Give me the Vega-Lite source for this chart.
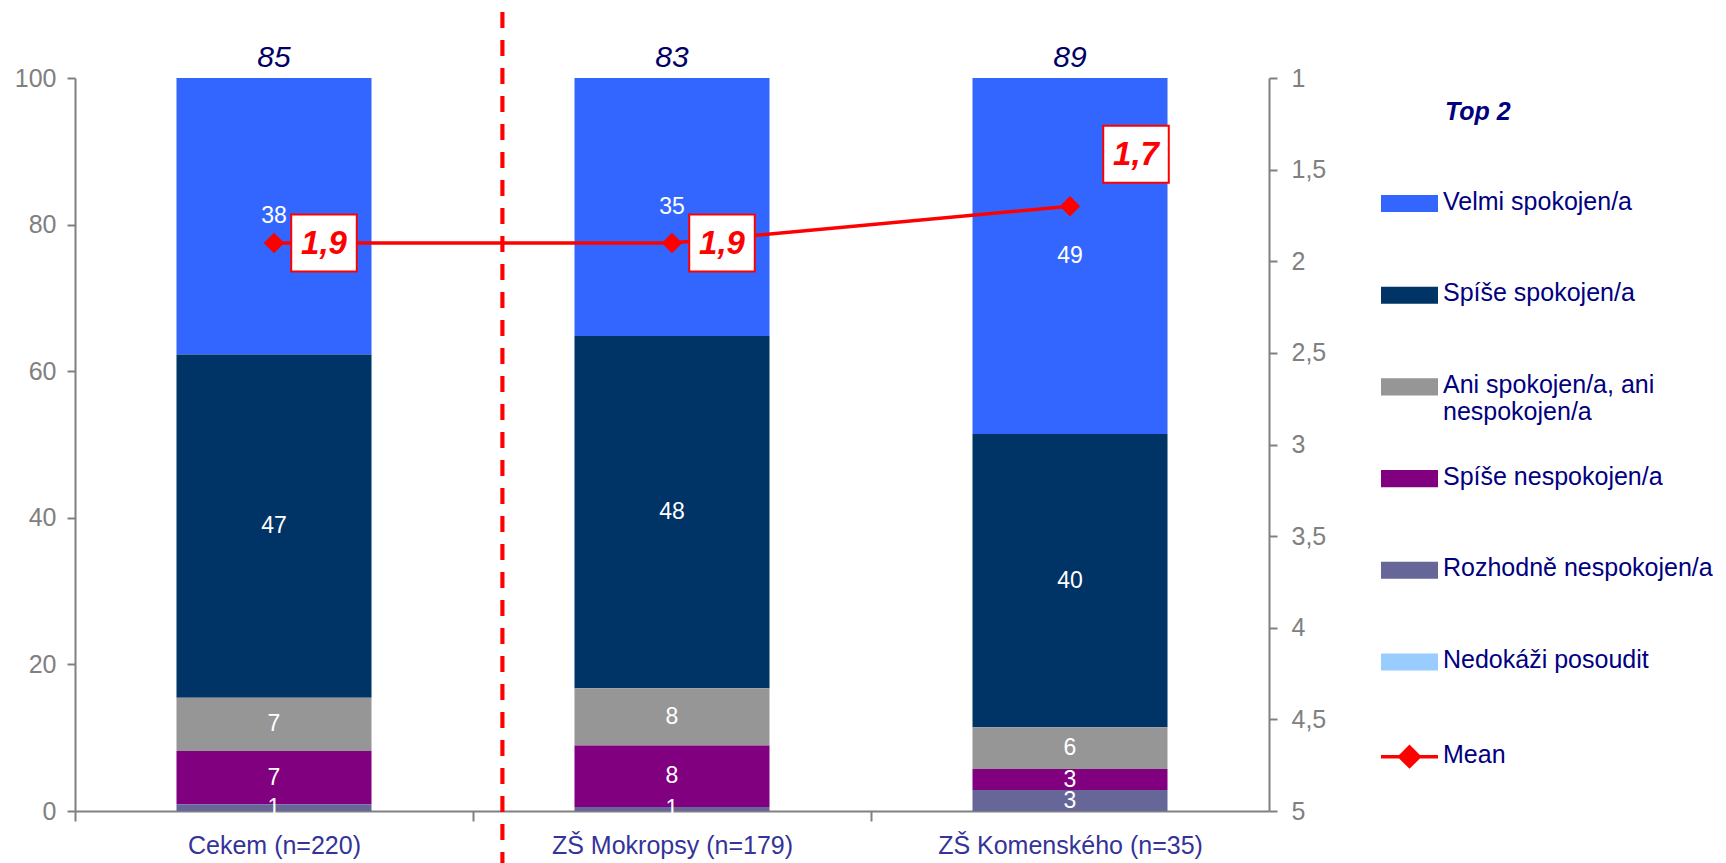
{
  "$schema": "https://vega.github.io/schema/vega-lite/v6.json",
  "width": 1194,
  "height": 733,
  "autosize": {"type": "none"},
  "padding": {"left": 75, "top": 78, "right": 457, "bottom": 52},
  "background": "white",
  "config": {
    "view": {"stroke": null},
    "font": "Liberation Sans",
    "locale": {"number": {"decimal": ",", "thousands": " ", "grouping": [3], "currency": ["", " Kč"]}}
  },
  "datasets": {
    "resp": [
      {"cat": "Cekem (n=220)", "resp": "Velmi spokojen/a", "value": 37.73},
      {"cat": "Cekem (n=220)", "resp": "Spíše spokojen/a", "value": 46.82},
      {"cat": "Cekem (n=220)", "resp": "Ani spokojen/a, ani nespokojen/a", "value": 7.27},
      {"cat": "Cekem (n=220)", "resp": "Spíše nespokojen/a", "value": 7.27},
      {"cat": "Cekem (n=220)", "resp": "Rozhodně nespokojen/a", "value": 0.91},
      {"cat": "Cekem (n=220)", "resp": "Nedokáži posoudit", "value": 0},
      {"cat": "ZŠ Mokropsy (n=179)", "resp": "Velmi spokojen/a", "value": 35.2},
      {"cat": "ZŠ Mokropsy (n=179)", "resp": "Spíše spokojen/a", "value": 48.04},
      {"cat": "ZŠ Mokropsy (n=179)", "resp": "Ani spokojen/a, ani nespokojen/a", "value": 7.82},
      {"cat": "ZŠ Mokropsy (n=179)", "resp": "Spíše nespokojen/a", "value": 8.38},
      {"cat": "ZŠ Mokropsy (n=179)", "resp": "Rozhodně nespokojen/a", "value": 0.56},
      {"cat": "ZŠ Mokropsy (n=179)", "resp": "Nedokáži posoudit", "value": 0},
      {"cat": "ZŠ Komenského (n=35)", "resp": "Velmi spokojen/a", "value": 48.57},
      {"cat": "ZŠ Komenského (n=35)", "resp": "Spíše spokojen/a", "value": 40.0},
      {"cat": "ZŠ Komenského (n=35)", "resp": "Ani spokojen/a, ani nespokojen/a", "value": 5.71},
      {"cat": "ZŠ Komenského (n=35)", "resp": "Spíše nespokojen/a", "value": 2.86},
      {"cat": "ZŠ Komenského (n=35)", "resp": "Rozhodně nespokojen/a", "value": 2.86},
      {"cat": "ZŠ Komenského (n=35)", "resp": "Nedokáži posoudit", "value": 0}
    ],
    "summary": [
      {"cat": "Cekem (n=220)", "top2": 85, "mean": 1.9},
      {"cat": "ZŠ Mokropsy (n=179)", "top2": 83, "mean": 1.9},
      {"cat": "ZŠ Komenského (n=35)", "top2": 89, "mean": 1.7}
    ]
  },
  "layer": [
    {
      "layer": [
        {
          "data": {"name": "resp"},
          "transform": [
            {"calculate": "indexof(['Rozhodně nespokojen/a','Spíše nespokojen/a','Ani spokojen/a, ani nespokojen/a','Spíše spokojen/a','Velmi spokojen/a','Nedokáži posoudit'], datum.resp)", "as": "ord"},
            {"stack": "value", "groupby": ["cat"], "sort": [{"field": "ord", "order": "ascending"}], "as": ["v0", "v1"]}
          ],
          "mark": {"type": "bar"},
          "encoding": {
            "x": {
              "field": "cat", "type": "nominal", "title": null, "sort": null,
              "scale": {"domain": ["Cekem (n=220)", "ZŠ Mokropsy (n=179)", "ZŠ Komenského (n=35)"], "paddingInner": 0.51, "paddingOuter": 0.255},
              "axis": {"labelAngle": 0, "labelFontSize": 25, "labelColor": "#333399", "labelLimit": 500, "tickOffset": -199, "labelOffset": 199, "tickSize": 10, "tickColor": "#808080", "tickWidth": 2, "domainColor": "#808080", "domainWidth": 2, "labelPadding": 12, "grid": false}
            },
            "y": {
              "field": "v0", "type": "quantitative", "title": null,
              "scale": {"domain": [0, 100], "nice": false},
              "axis": {"values": [0, 20, 40, 60, 80, 100], "labelFontSize": 25, "labelColor": "#808080", "tickSize": 8, "tickColor": "#808080", "tickWidth": 2, "domainColor": "#808080", "domainWidth": 2, "labelPadding": 11, "grid": false}
            },
            "y2": {"field": "v1"},
            "color": {
              "field": "resp", "type": "nominal",
              "scale": {
                "domain": ["Velmi spokojen/a", "Spíše spokojen/a", "Ani spokojen/a, ani nespokojen/a", "Spíše nespokojen/a", "Rozhodně nespokojen/a", "Nedokáži posoudit", "Mean"],
                "range": ["#3366FF", "#003366", "#969696", "#800080", "#666699", "#99CCFF", "#FF0000"]
              },
              "legend": {
                "orient": "none", "legendX": 1322, "legendY": 22,
                "title": "Top 2", "titleFontSize": 25, "titleFontStyle": "italic", "titleFontWeight": "bold", "titleColor": "#000080",
                "titleAnchor": "start", "titlePadding": 66, "titleBaseline": "top",
                "labelFontSize": 25, "labelColor": "#000080", "labelLimit": 400, "labelOffset": 21, "labelBaseline": "top",
                "symbolSize": 3249, "symbolStrokeWidth": 0, "symbolOpacity": 1, "rowPadding": 38.7,
                "labelExpr": "datum.label === 'Ani spokojen/a, ani nespokojen/a' ? ['Ani spokojen/a, ani', 'nespokojen/a'] : [datum.label, '']",
                "encode": {
                  "title": {"update": {"dx": {"value": 48}}},
                  "labels": {"update": {"dy": {"value": -14}}},
                  "symbols": {"update": {
                    "shape": {"signal": "datum.value === 'Mean' ? 'M-1,0L1,0M0,-0.34L0.34,0L0,0.34L-0.34,0Z' : 'M-1,-0.3L1,-0.3L1,0.3L-1,0.3Z'"},
                    "strokeWidth": {"signal": "datum.value === 'Mean' ? 3.5 : 0"},
                    "stroke": {"value": "#FF0000"}
                  }}
                }
              }
            }
          }
        },
        {
          "data": {"name": "resp"},
          "transform": [
            {"calculate": "indexof(['Rozhodně nespokojen/a','Spíše nespokojen/a','Ani spokojen/a, ani nespokojen/a','Spíše spokojen/a','Velmi spokojen/a','Nedokáži posoudit'], datum.resp)", "as": "ord"},
            {"stack": "value", "groupby": ["cat"], "sort": [{"field": "ord", "order": "ascending"}], "as": ["v0", "v1"]},
            {"filter": "datum.value > 0"},
            {"calculate": "(datum.v0 + datum.v1) / 2", "as": "mid"}
          ],
          "mark": {"type": "text", "color": "white", "fontSize": 23, "baseline": "middle", "align": "center"},
          "encoding": {
            "x": {"field": "cat", "type": "nominal", "title": null, "sort": null},
            "y": {"field": "mid", "type": "quantitative", "title": null},
            "text": {"field": "value", "type": "quantitative", "format": ".0f"}
          }
        },
        {
          "data": {"name": "summary"},
          "mark": {"type": "text", "color": "#000066", "fontSize": 30, "fontStyle": "italic", "baseline": "alphabetic", "dy": -11},
          "encoding": {
            "x": {"field": "cat", "type": "nominal", "title": null, "sort": null},
            "y": {"datum": 100, "type": "quantitative"},
            "text": {"field": "top2", "type": "quantitative", "format": ".0f"}
          }
        }
      ]
    },
    {
      "data": {"name": "summary"},
      "mark": {"type": "rule", "color": "#FF0000", "strokeWidth": 3.5, "strokeDash": [16, 12]},
      "encoding": {
        "x": {"datum": 1.074, "type": "quantitative", "scale": {"domain": [0, 3], "nice": false, "zero": false}, "axis": null},
        "y": {"datum": 109, "type": "quantitative", "scale": {"domain": [0, 100], "nice": false}, "axis": null},
        "y2": {"datum": -7.2}
      }
    },
    {
      "data": {"name": "summary"},
      "encoding": {
        "x": {
          "field": "cat", "type": "nominal", "title": null, "sort": null,
          "scale": {"domain": ["Cekem (n=220)", "ZŠ Mokropsy (n=179)", "ZŠ Komenského (n=35)"], "paddingInner": 0.51, "paddingOuter": 0.255},
          "axis": null
        },
        "y": {
          "field": "mean", "type": "quantitative", "title": null,
          "scale": {"domain": [1, 5], "reverse": true, "nice": false, "zero": false},
          "axis": {
            "orient": "right", "values": [1, 1.5, 2, 2.5, 3, 3.5, 4, 4.5, 5], "format": "~r",
            "labelFontSize": 25, "labelColor": "#808080", "tickSize": 8, "tickColor": "#808080", "tickWidth": 2,
            "domainColor": "#808080", "domainWidth": 2, "labelPadding": 14, "grid": false,
            "encode": {"ticks": {"update": {"x": {"value": -8}, "x2": {"value": 8}}}}
          }
        }
      },
      "layer": [
        {"mark": {"type": "line", "color": "#FF0000", "strokeWidth": 3.5}},
        {"mark": {"type": "point", "shape": "diamond", "filled": true, "color": "#FF0000", "size": 420, "opacity": 1}},
        {
          "transform": [{"filter": "datum.cat !== 'ZŠ Komenského (n=35)'"}],
          "layer": [
            {"mark": {"type": "point", "shape": "M-1.15,-1L1.15,-1L1.15,1L-1.15,1Z", "filled": true, "fill": "white", "stroke": "#FF0000", "strokeWidth": 2, "size": 3249, "opacity": 1, "xOffset": 50}},
            {"mark": {"type": "text", "color": "#FF0000", "fontSize": 33, "fontWeight": "bold", "fontStyle": "italic", "baseline": "middle", "align": "center", "xOffset": 50, "dy": 1},
             "encoding": {"text": {"field": "mean", "type": "quantitative", "format": ".1f"}}}
          ]
        },
        {
          "transform": [{"filter": "datum.cat === 'ZŠ Komenského (n=35)'"}],
          "layer": [
            {"mark": {"type": "point", "shape": "M-1.15,-1L1.15,-1L1.15,1L-1.15,1Z", "filled": true, "fill": "white", "stroke": "#FF0000", "strokeWidth": 2, "size": 3249, "opacity": 1, "xOffset": 66, "yOffset": -52}},
            {"mark": {"type": "text", "color": "#FF0000", "fontSize": 33, "fontWeight": "bold", "fontStyle": "italic", "baseline": "middle", "align": "center", "xOffset": 66, "yOffset": -52, "dy": 1},
             "encoding": {"text": {"field": "mean", "type": "quantitative", "format": ".1f"}}}
          ]
        }
      ]
    }
  ],
  "resolve": {"scale": {"x": "independent", "y": "independent"}}
}
